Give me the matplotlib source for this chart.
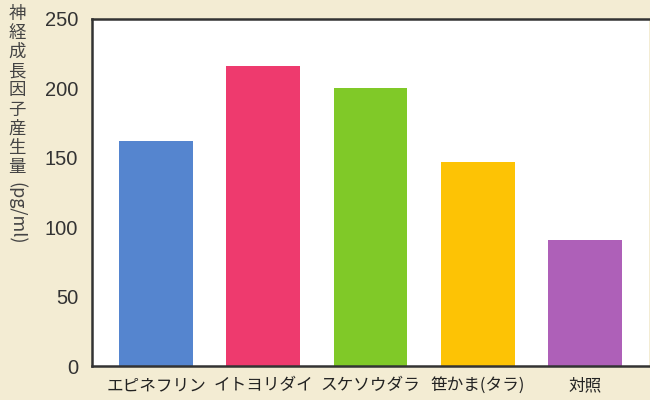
import matplotlib
matplotlib.use("Agg")
import matplotlib.pyplot as plt

plt.rcParams['font.family'] = ['Noto Sans CJK JP', 'DejaVu Sans']

categories = ["エピネフリン", "イトヨリダイ", "スケソウダラ", "笹かま(タラ)", "対照"]
values = [162, 216, 200, 147, 91]
colors = ["#5585CF", "#EE3A6E", "#80C928", "#FDC305", "#AE60B8"]
yticks = [0, 50, 100, 150, 200, 250]

bg = "#F3ECD3"
fig = plt.figure(figsize=(6.5, 4.0), dpi=100, facecolor=bg)
ax = fig.add_axes([92/650, 34/400, 557/650, 347/400])
ax.set_facecolor("white")
ax.bar(range(len(categories)), values, width=0.69, color=colors)
ax.set_xlim(-0.6, 4.6)
ax.set_ylim(0, 250)
ax.set_yticks(yticks)
ax.set_yticklabels([str(t) for t in yticks], fontsize=14.5, color="#333333",
                   family=['Liberation Sans', 'DejaVu Sans'])
ax.set_xticks(range(len(categories)))
ax.set_xticklabels(categories, fontsize=12, color="#222222")
ax.tick_params(axis='both', length=0)
ax.tick_params(axis='y', pad=10)
ax.tick_params(axis='x', pad=8)
for s in ['left', 'bottom', 'top']:
    ax.spines[s].set_linewidth(1.8)
    ax.spines[s].set_color("#333333")
ax.spines['right'].set_visible(False)

fig.text(17/650, 1 - 5/400, "\n".join("神経成長因子産生量"), fontsize=12.5, color="#444444",
         ha='center', va='top', linespacing=1.08)
fig.text(17/650, 1 - 182/400, "(pg/ml)", fontsize=13, color="#444444",
         ha='center', va='top', rotation=270)

fig.savefig("out.png", dpi=100, facecolor=bg)
